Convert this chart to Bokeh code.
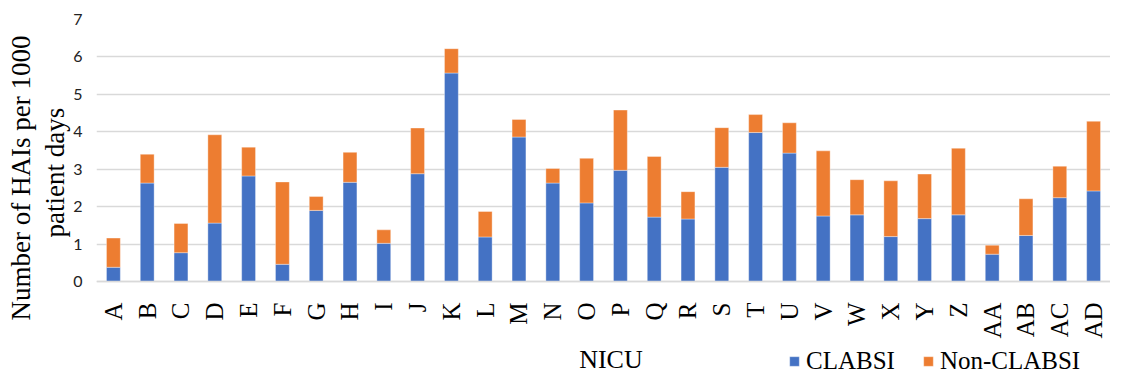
import math
from bokeh.plotting import figure
from bokeh.models import ColumnDataSource, Label, FixedTicker, Legend, Title
from bokeh.embed import file_html
from bokeh.resources import INLINE

nicu = ["A", "B", "C", "D", "E", "F", "G", "H", "I", "J", "K", "L", "M", "N", "O",
        "P", "Q", "R", "S", "T", "U", "V", "W", "X", "Y", "Z", "AA", "AB", "AC", "AD"]
clabsi = [0.38, 2.63, 0.77, 1.56, 2.82, 0.46, 1.90, 2.65, 1.02, 2.88, 5.57, 1.19, 3.86, 2.63, 2.10,
          2.97, 1.72, 1.67, 3.05, 3.98, 3.43, 1.75, 1.78, 1.20, 1.68, 1.78, 0.73, 1.23, 2.24, 2.42]
non_clabsi = [0.78, 0.77, 0.78, 2.36, 0.77, 2.20, 0.37, 0.80, 0.36, 1.22, 0.65, 0.68, 0.47, 0.39, 1.19,
              1.61, 1.62, 0.73, 1.06, 0.48, 0.81, 1.74, 0.94, 1.49, 1.19, 1.78, 0.24, 0.98, 0.84, 1.86]
series = ["CLABSI", "Non-CLABSI"]
colors = ["#4472C4", "#ED7D31"]
y_ticks = [0, 1, 2, 3, 4, 5, 6, 7]
y_title_lines = ["Number of HAIs per 1000", "patient days"]
x_title = "NICU"

source = ColumnDataSource(dict(nicu=nicu, CLABSI=clabsi, NonCLABSI=non_clabsi))

SERIF = "Liberation Serif"

p = figure(x_range=nicu, y_range=(-2.565, 7), frame_width=1014, frame_height=358,
           min_border_left=96, min_border_right=0, min_border_top=19, min_border_bottom=0,
           output_backend="svg", toolbar_location=None)
p.outline_line_color = None
p.background_fill_color = "white"

rs = p.vbar_stack(["CLABSI", "NonCLABSI"], x="nicu", width=0.41, source=source,
                  fill_color=colors, line_color="white", line_width=0.6, line_alpha=0.6)

p.xgrid.grid_line_color = None
p.ygrid.grid_line_color = "#D9D9D9"
p.ygrid.grid_line_width = 1.3

p.yaxis.ticker = FixedTicker(ticks=y_ticks)
p.yaxis.axis_line_color = None
p.yaxis.major_tick_line_color = None
p.yaxis.minor_tick_line_color = None
p.yaxis.major_label_text_font = "Lato"
p.yaxis.major_label_text_font_size = "16px"
p.yaxis.major_label_text_color = "#222222"
p.yaxis.major_label_standoff = 8

p.xaxis.fixed_location = 0
p.xaxis.axis_line_color = "#D9D9D9"
p.xaxis.axis_line_width = 1.3
p.xaxis.major_tick_line_color = None
p.xaxis.minor_tick_line_color = None
p.xaxis.major_label_orientation = math.pi / 2
p.xaxis.major_label_text_font = SERIF
p.xaxis.major_label_text_font_size = "25px"
p.xaxis.major_label_text_color = "black"
p.xaxis.major_label_standoff = 15

# y-axis title: two lines, nearest line first
for txt, off in [(y_title_lines[1], 140), (y_title_lines[0], 57)]:
    p.add_layout(Title(text=txt, align="left", offset=off, standoff=2, text_font=SERIF,
                       text_font_size="27px", text_font_style="normal", text_color="black"),
                 "left")

p.add_layout(Label(x=15.22, y=-2.08, text=x_title, text_align="center", text_baseline="middle",
                   text_font=SERIF, text_font_size="26px", text_color="black"))

legend = Legend(items=[(series[0], [rs[0]]), (series[1], [rs[1]])], orientation="horizontal",
                location=(692, 2))
legend.glyph_width = 12
legend.glyph_height = 12
legend.label_standoff = 6
legend.spacing = 27
legend.padding = 0
legend.margin = 0
legend.border_line_color = None
legend.background_fill_alpha = 0
legend.label_text_font = SERIF
legend.label_text_font_size = "25px"
legend.label_text_color = "black"
p.add_layout(legend, "center")

open("out.html", "w").write(file_html(p, INLINE))
